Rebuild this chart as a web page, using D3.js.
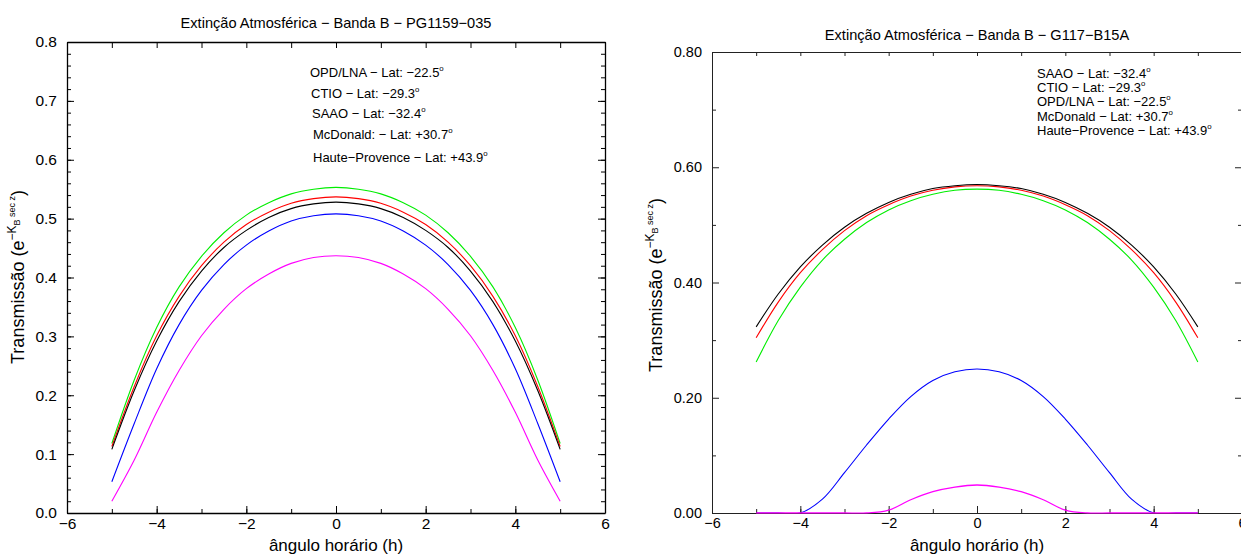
<!DOCTYPE html>
<html>
<head>
<meta charset="utf-8">
<script src="https://cdn.jsdelivr.net/npm/d3@7"></script>
<style>
  html, body { margin: 0; padding: 0; background: #fff; }
  svg { display: block; font-family: "Liberation Sans", Arial, sans-serif; }
</style>
</head>
<body>
<svg id="chart" width="1241" height="554"></svg>
<script>
// ---------- data ----------
const hours = [-5, -4.5, -4, -3.5, -3, -2.5, -2, -1.5, -1, -0.5, 0, 0.5, 1, 1.5, 2, 2.5, 3, 3.5, 4, 4.5, 5];

// Left panel: PG1159-035
const leftTitle = "Extinção Atmosférica − Banda B − PG1159−035";
const leftGreen   = [0.118, 0.226, 0.315, 0.384, 0.436, 0.476, 0.506, 0.527, 0.542, 0.550, 0.553, 0.550, 0.542, 0.527, 0.506, 0.476, 0.436, 0.384, 0.315, 0.226, 0.118];
const leftRed     = [0.113, 0.215, 0.301, 0.368, 0.420, 0.460, 0.490, 0.511, 0.526, 0.534, 0.537, 0.534, 0.526, 0.511, 0.490, 0.460, 0.420, 0.368, 0.301, 0.215, 0.113];
const leftBlack   = [0.108, 0.208, 0.292, 0.359, 0.411, 0.451, 0.480, 0.502, 0.517, 0.525, 0.528, 0.525, 0.517, 0.502, 0.480, 0.451, 0.411, 0.359, 0.292, 0.208, 0.108];
const leftBlue    = [0.053, 0.152, 0.245, 0.320, 0.378, 0.422, 0.455, 0.479, 0.496, 0.505, 0.508, 0.505, 0.496, 0.479, 0.455, 0.422, 0.378, 0.320, 0.245, 0.152, 0.053];
const leftMagenta = [0.020, 0.090, 0.171, 0.242, 0.301, 0.346, 0.381, 0.406, 0.424, 0.434, 0.437, 0.434, 0.424, 0.406, 0.381, 0.346, 0.301, 0.242, 0.171, 0.090, 0.020];
const leftLegend = [
  ["OPD/LNA − Lat: −22.5", "o"],
  ["CTIO − Lat: −29.3", "o"],
  ["SAAO − Lat: −32.4", "o"],
  ["McDonald: − Lat: +30.7", "o"],
  ["Haute−Provence − Lat: +43.9", "o"]
];
const leftYTicks = [0, 0.1, 0.2, 0.3, 0.4, 0.5, 0.6, 0.7, 0.8];

// Right panel: G117-B15A
const rightTitle = "Extinção Atmosférica − Banda B − G117−B15A";
const rightBlack   = [0.323, 0.380, 0.427, 0.465, 0.496, 0.520, 0.539, 0.553, 0.563, 0.568, 0.570, 0.568, 0.563, 0.553, 0.539, 0.520, 0.496, 0.465, 0.427, 0.380, 0.323];
const rightRed     = [0.304, 0.366, 0.417, 0.457, 0.490, 0.516, 0.535, 0.550, 0.560, 0.566, 0.568, 0.566, 0.560, 0.550, 0.535, 0.516, 0.490, 0.457, 0.417, 0.366, 0.304];
const rightGreen   = [0.262, 0.334, 0.392, 0.439, 0.475, 0.504, 0.526, 0.542, 0.553, 0.560, 0.562, 0.560, 0.553, 0.542, 0.526, 0.504, 0.475, 0.439, 0.392, 0.334, 0.262];
const rightBlue    = [0, 0, 0, 0.024, 0.070, 0.118, 0.163, 0.202, 0.230, 0.245, 0.250, 0.245, 0.230, 0.202, 0.163, 0.118, 0.070, 0.024, 0, 0, 0];
const rightMagenta = [0, 0, 0, 0, 0, 0, 0.005, 0.023, 0.037, 0.045, 0.0486, 0.045, 0.037, 0.023, 0.005, 0, 0, 0, 0, 0, 0];
const rightLegend = [
  ["SAAO − Lat: −32.4", "o"],
  ["CTIO − Lat: −29.3", "o"],
  ["OPD/LNA − Lat: −22.5", "o"],
  ["McDonald − Lat: +30.7", "o"],
  ["Haute−Provence − Lat: +43.9", "o"]
];
const rightYTicks = [0, 0.2, 0.4, 0.6, 0.8];

const xTicks = [-6, -4, -2, 0, 2, 4, 6];
const xLabel = "ângulo horário (h)";

// ---------- drawing ----------
const svg = d3.select("#chart");
const defs = svg.append("defs");

function drawPanel(cfg) {
  const g = svg.append("g");
  const x = d3.scaleLinear().domain([-6, 6]).range([cfg.left, cfg.right]);
  const y = d3.scaleLinear().domain([0, 0.8]).range([cfg.bottom, cfg.top]);
  const axStroke = cfg.axisColor;

  defs.append("clipPath").attr("id", cfg.id + "-clip")
    .append("rect").attr("x", cfg.left).attr("y", cfg.top - 2)
    .attr("width", cfg.right - cfg.left).attr("height", cfg.bottom - cfg.top + 2.7);

  function styleAxis(sel, fontSize) {
    sel.selectAll("path.domain").attr("stroke", axStroke).attr("stroke-width", cfg.axisWidth);
    sel.selectAll(".tick line").attr("stroke", axStroke).attr("stroke-width", 1);
    sel.selectAll("text").attr("font-size", fontSize).attr("fill", "#000")
      .attr("font-family", '"Liberation Sans", Arial, sans-serif');
  }

  const smooth = d3.line().x((d, i) => x(hours[i])).y(d => y(d)).curve(d3.curveCatmullRom.alpha(0.5));
  const plotG = g.append("g").attr("clip-path", `url(#${cfg.id}-clip)`);

  cfg.series.forEach(s => {
    plotG.append("path").datum(s.values)
      .attr("d", smooth).attr("fill", "none")
      .attr("stroke", s.color).attr("stroke-width", 1.1);
  });

  // bottom axis - minor
  g.append("g").attr("transform", `translate(0,${cfg.bottom})`)
    .call(d3.axisBottom(x).tickValues(d3.range(-6, 7, 1)).tickSizeInner(-4).tickSizeOuter(0).tickFormat(""))
    .call(s => { s.select(".domain").remove(); styleAxis(s, cfg.tickFont); });
  // bottom axis - major
  g.append("g").attr("transform", `translate(0,${cfg.bottom})`)
    .call(d3.axisBottom(x).tickValues(xTicks).tickSizeInner(-7).tickSizeOuter(0).tickPadding(5)
      .tickFormat(d3.format("d")))
    .call(s => styleAxis(s, cfg.tickFont));

  // top axis
  g.append("g").attr("transform", `translate(0,${cfg.top})`)
    .call(d3.axisTop(x).tickValues(d3.range(-6, 7, 1)).tickSizeInner(-cfg.topTick).tickSizeOuter(0).tickFormat(""))
    .call(s => styleAxis(s, cfg.tickFont));

  // left axis - minor
  g.append("g").attr("transform", `translate(${cfg.left},0)`)
    .call(d3.axisLeft(y).tickValues(cfg.yMinor).tickSizeInner(-4).tickSizeOuter(0).tickFormat(""))
    .call(s => { s.select(".domain").remove(); styleAxis(s, cfg.tickFont); });
  // left axis - major
  g.append("g").attr("transform", `translate(${cfg.left},0)`)
    .call(d3.axisLeft(y).tickValues(cfg.yTicks).tickSizeInner(-7).tickSizeOuter(0).tickPadding(10)
      .tickFormat(d3.format(cfg.yFormat)))
    .call(s => styleAxis(s, cfg.tickFont));

  // right axis - minor and major
  g.append("g").attr("transform", `translate(${cfg.right},0)`)
    .call(d3.axisRight(y).tickValues(cfg.yMinor).tickSizeInner(-4).tickSizeOuter(0).tickFormat(""))
    .call(s => styleAxis(s, cfg.tickFont));
  g.append("g").attr("transform", `translate(${cfg.right},0)`)
    .call(d3.axisRight(y).tickValues(cfg.yTicks).tickSizeInner(-7).tickSizeOuter(0).tickFormat(""))
    .call(s => { s.select(".domain").remove(); styleAxis(s, cfg.tickFont); });

  // lines lying on the zero level, drawn over the axis
  const overG = g.append("g").attr("clip-path", `url(#${cfg.id}-clip)`);
  cfg.overlay.forEach(s => {
    overG.append("path").datum(s.values)
      .attr("d", smooth).attr("fill", "none")
      .attr("stroke", s.color).attr("stroke-width", 1.3);
  });

  // title
  g.append("text").attr("x", (cfg.left + cfg.right) / 2).attr("y", cfg.titleY)
    .attr("text-anchor", "middle").attr("font-size", cfg.titleFont).text(cfg.title);

  // x label
  g.append("text").attr("x", (cfg.left + cfg.right) / 2).attr("y", 551)
    .attr("text-anchor", "middle").attr("font-size", 17).text(xLabel);

  // y label
  const yl = g.append("text")
    .attr("transform", `translate(${cfg.yLabelX},${cfg.yLabelY}) rotate(-90)`)
    .attr("text-anchor", "middle").attr("font-size", 18);
  yl.append("tspan").text("Transmissão (e");
  yl.append("tspan").attr("font-size", 12).attr("dy", -8).text("−K");
  yl.append("tspan").attr("font-size", 9).attr("dy", 4).text("B");
  yl.append("tspan").attr("font-size", 9).attr("dy", -5).text(" sec z");
  yl.append("tspan").attr("dy", 9).text(")");

  // legend (text only)
  cfg.legend.forEach((l, i) => {
    const t = g.append("text").attr("x", cfg.legendX[i]).attr("y", cfg.legendY[i])
      .attr("font-size", cfg.legendFont);
    t.append("tspan").text(l[0]);
    t.append("tspan").attr("font-size", cfg.legendFont * 0.6).attr("dy", -6).text(l[1]);
  });
}

drawPanel({
  id: "left",
  left: 67, right: 605, top: 42, bottom: 513,
  axisColor: "#000", axisWidth: 1.3, topTick: 6,
  yTicks: leftYTicks, yMinor: d3.range(0, 0.8001, 0.02), yFormat: ".1f",
  tickFont: 15.5, titleFont: 14.6, title: leftTitle, titleY: 28,
  yLabelX: 24, yLabelY: 277,
  series: [
    { color: "#00ee00", values: leftGreen },
    { color: "#ff0000", values: leftRed },
    { color: "#000000", values: leftBlack },
    { color: "#0000ff", values: leftBlue },
    { color: "#ff00ff", values: leftMagenta }
  ],
  overlay: [],
  legend: leftLegend, legendFont: 13,
  legendX: [310, 311, 312, 313, 313], legendY: [77, 98, 118, 139, 162]
});

drawPanel({
  id: "right",
  left: 712, right: 1242, top: 52, bottom: 513,
  axisColor: "#222", axisWidth: 1, topTick: 4,
  yTicks: rightYTicks, yMinor: [0.1, 0.3, 0.5, 0.7], yFormat: ".2f",
  tickFont: 14.5, titleFont: 14.6, title: rightTitle, titleY: 40,
  yLabelX: 662, yLabelY: 285,
  series: [
    { color: "#00ee00", values: rightGreen },
    { color: "#ff0000", values: rightRed },
    { color: "#000000", values: rightBlack },
    { color: "#0000ff", values: rightBlue }
  ],
  overlay: [
    { color: "#ff00ff", values: rightMagenta }
  ],
  legend: rightLegend, legendFont: 13,
  legendX: [1037, 1037, 1037, 1037, 1037], legendY: [78, 92, 106, 121, 135]
});
</script>
</body>
</html>
